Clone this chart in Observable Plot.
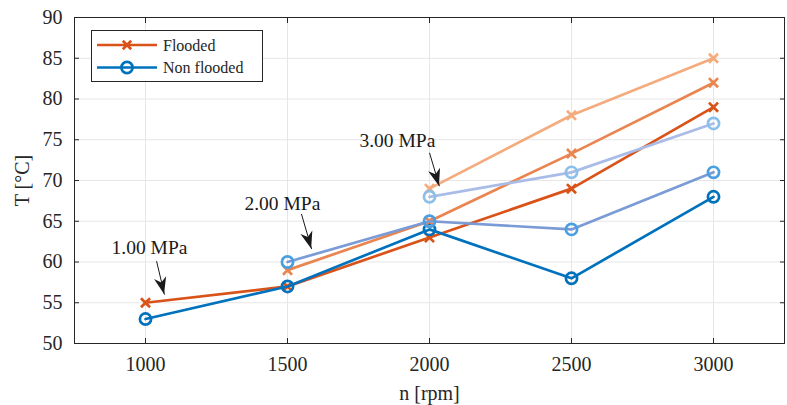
<!DOCTYPE html>
<html>
<head>
<meta charset="utf-8">
<script src="https://cdn.jsdelivr.net/npm/d3@7"></script>
<script src="https://cdn.jsdelivr.net/npm/@observablehq/plot@0.6"></script>
<style>
  html, body { margin: 0; padding: 0; background: #fff; }
  #wrap { position: relative; width: 787px; height: 405px; }
  #legend { position: absolute; left: 91px; top: 30px; }
</style>
</head>
<body>
<div id="wrap"></div>
<script>
// ---- data ----
const rpm = [1000, 1500, 2000, 2500, 3000];
const flooded1 = [55, 57, 63, 69, 79];
const flooded2 = [null, 59, 65, 73.3, 82];
const flooded3 = [null, null, 69, 78, 85];
const nonFlooded1 = [53, 57, 64, 58, 68];
const nonFlooded2 = [null, 60, 65, 64, 71];
const nonFlooded3 = [null, null, 68, 71, 77];
const xTicks = [1000, 1500, 2000, 2500, 3000];
const yTicks = [50, 55, 60, 65, 70, 75, 80, 85, 90];
const legendLabels = ["Flooded", "Non flooded"];
const annotationLabels = ["1.00 MPa", "2.00 MPa", "3.00 MPa"];
const annotationTextX = [1014, 1482, 1887];
const annotationTextY = [61.7, 67.2, 74.9];
const arrowFromX = [1039, 1549, 2000];
const arrowFromY = [60.1, 65.9, 73.4];
const arrowToX = [1067, 1585, 2035];
const arrowToY = [56.0, 61.6, 69.3];

const FONT = "'Liberation Serif', 'Times New Roman', serif";
const series = [
  {name: "F1", vals: flooded1, line: "#D95319", mark: "#D95319", sym: "times"},
  {name: "NF1", vals: nonFlooded1, line: "#0072BD", mark: "#0072BD", sym: "circle"},
  {name: "F2", vals: flooded2, line: "#EA8550", mark: "#EA8550", sym: "times"},
  {name: "NF2", vals: nonFlooded2, line: "#7A9BD6", mark: "#4A9FE0", sym: "circle"},
  {name: "F3", vals: flooded3, line: "#F4AC7E", mark: "#F4AC7E", sym: "times"},
  {name: "NF3", vals: nonFlooded3, line: "#A9BCE8", mark: "#8AC0EA", sym: "circle"}
];

const marks = [
  Plot.gridX(xTicks, {stroke: "#e6e6e6", strokeOpacity: 1, strokeWidth: 1}),
  Plot.gridY(yTicks, {stroke: "#e6e6e6", strokeOpacity: 1, strokeWidth: 1}),
  Plot.axisX(xTicks, {anchor: "bottom", tickSize: -5, tickPadding: 18, tickFormat: d => String(d), fontSize: 20, label: "n [rpm]", labelAnchor: "center", labelOffset: 56, labelArrow: "none", fill: "#262626", stroke: "#262626"}),
  Plot.axisX(xTicks, {anchor: "top", tickSize: -5, tickFormat: () => "", label: null, stroke: "#262626"}),
  Plot.axisY(yTicks, {anchor: "left", tickSize: -5, tickPadding: 17, fontSize: 20, label: "T [°C]", labelAnchor: "center", labelOffset: 60, labelArrow: "none", fill: "#262626", stroke: "#262626"}),
  Plot.axisY(yTicks, {anchor: "right", tickSize: -5, tickFormat: () => "", label: null, stroke: "#262626"}),
  Plot.frame({stroke: "#262626", strokeWidth: 1})
];

for (const s of series) {
  const data = rpm.map((r, i) => ({x: r, y: s.vals[i]})).filter(d => d.y != null);
  marks.push(Plot.line(data, {x: "x", y: "y", stroke: s.line, strokeWidth: 2.7}));
  marks.push(Plot.dot(data, {x: "x", y: "y", symbol: s.sym, stroke: s.mark, strokeWidth: 2.7, fill: "none", r: s.sym === "circle" ? 5.6 : 4.2}));
}

const arrows = annotationLabels.map((l, i) => ({
  label: l, tx: annotationTextX[i], ty: annotationTextY[i],
  x1: arrowFromX[i], y1: arrowFromY[i], x2: arrowToX[i], y2: arrowToY[i]
}));
marks.push(Plot.link(arrows, {x1: "x1", y1: "y1", x2: "x2", y2: "y2", stroke: "#1a1a1a", strokeWidth: 1}));
marks.push(Plot.text(arrows, {x: "tx", y: "ty", text: "label", fill: "#1a1a1a", fontSize: 19.5}));

const chart = Plot.plot({
  width: 787,
  height: 405,
  marginLeft: 74,
  marginRight: 3,
  marginTop: 17,
  marginBottom: 62,
  style: {fontFamily: FONT, fontSize: "20px", color: "#262626", background: "#fff", overflow: "visible"},
  x: {domain: [750, 3250]},
  y: {domain: [50, 90]},
  marks
});
document.getElementById("wrap").appendChild(chart);

// arrowheads drawn via the chart's own scales
const sx = chart.scale("x"), sy = chart.scale("y");
const svg = d3.select(chart.tagName.toLowerCase() === "svg" ? chart : chart.querySelector("svg"));
const L = 17, W = 6.2, N = 5;
for (const a of arrows) {
  const px1 = sx.apply(a.x1), py1 = sy.apply(a.y1), px2 = sx.apply(a.x2), py2 = sy.apply(a.y2);
  const ang = Math.atan2(py2 - py1, px2 - px1) * 180 / Math.PI;
  svg.append("path")
    .attr("d", `M0,0L${-L},${W}L${-L + N},0L${-L},${-W}Z`)
    .attr("fill", "#1a1a1a")
    .attr("transform", `translate(${px2},${py2}) rotate(${ang})`);
}

// legend
const lg = d3.select("#wrap").append("svg").attr("id", "legend").attr("width", 172).attr("height", 52)
  .style("font-family", FONT);
lg.append("rect").attr("x", 0.5).attr("y", 0.5).attr("width", 171).attr("height", 51).attr("fill", "#fff").attr("stroke", "#262626").attr("stroke-width", 1);
const items = [{c: "#D95319", sym: "x"}, {c: "#0072BD", sym: "o"}];
items.forEach((it, i) => {
  const yy = 15 + i * 22.5;
  lg.append("line").attr("x1", 6).attr("x2", 66).attr("y1", yy).attr("y2", yy).attr("stroke", it.c).attr("stroke-width", 2.7);
  if (it.sym === "x") {
    const r = 4.2;
    lg.append("path").attr("d", `M${36 - r},${yy - r}L${36 + r},${yy + r}M${36 - r},${yy + r}L${36 + r},${yy - r}`).attr("stroke", it.c).attr("stroke-width", 2.7);
  } else {
    lg.append("circle").attr("cx", 36).attr("cy", yy).attr("r", 5.6).attr("fill", "none").attr("stroke", it.c).attr("stroke-width", 2.7);
  }
  lg.append("text").attr("x", 72).attr("y", yy).attr("dy", "0.35em").attr("font-size", 16).attr("fill", "#262626").text(legendLabels[i]);
});
</script>
</body>
</html>
